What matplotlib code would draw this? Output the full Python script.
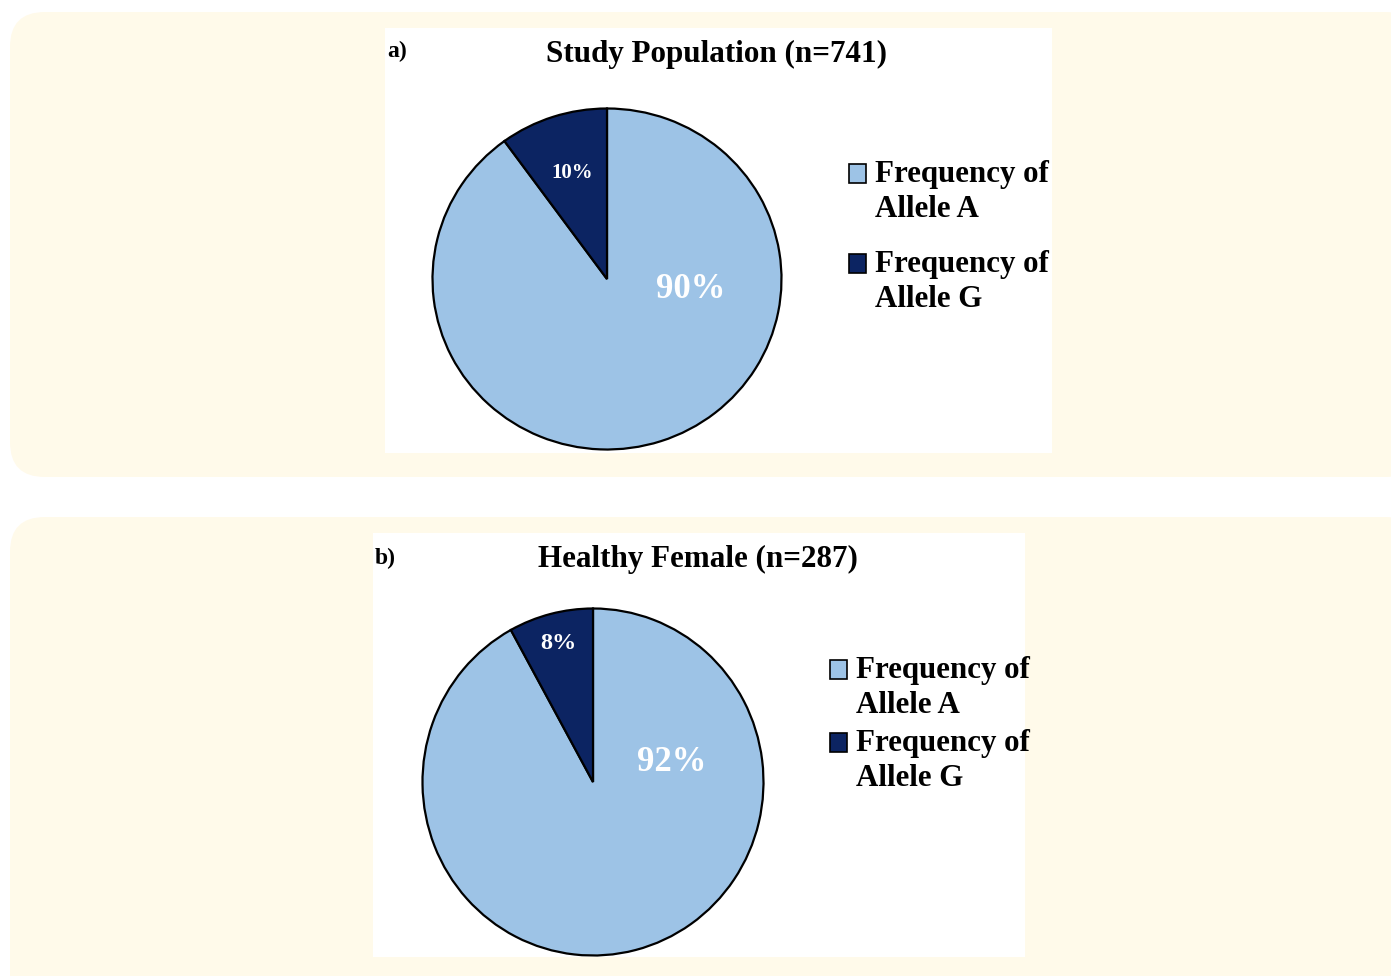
import matplotlib.pyplot as plt
from matplotlib.patches import FancyBboxPatch, Rectangle
from matplotlib.legend_handler import HandlerPatch

plt.rcParams['font.family'] = ['Liberation Serif', 'DejaVu Serif']
plt.rcParams['font.weight'] = 'bold'

labels = ['Frequency of\nAllele A', 'Frequency of\nAllele G']
colors = ['#9dc3e6', '#0c2462']

study_title = 'Study Population (n=741)'
study_values = [90, 10]

female_title = 'Healthy Female (n=287)'
female_values = [92, 8]

W, H = 1391, 976
fig = plt.figure(figsize=(W / 100, H / 100), dpi=100)
fig.patch.set_facecolor('white')


def px_box(x0, y0, x1, y1):
    # pixel box (top-left origin) -> figure fraction rect
    return [x0 / W, 1 - y1 / H, (x1 - x0) / W, (y1 - y0) / H]


def px(x, y):
    return x / W, 1 - y / H


def top_square(legend, orig_handle, xdescent, ydescent, width, height, fontsize):
    # legend swatch lined up with the first text line instead of the middle
    return Rectangle((-xdescent, -ydescent + 0.6 * fontsize), width, height)


# cream panels behind each chart
for top, bot in [(12, 477), (517, 1010)]:
    fig.patches.append(FancyBboxPatch(
        (10 / W, 1 - bot / H), (1420 - 10) / W, (bot - top) / H,
        boxstyle='round,pad=0,rounding_size=0.025', transform=fig.transFigure,
        facecolor='#fffaea', edgecolor='none', zorder=0, mutation_aspect=W / H))

# white chart areas
for x0, y0, x1, y1 in [(385, 28, 1052, 453), (373, 533, 1025, 957)]:
    r = px_box(x0, y0, x1, y1)
    fig.patches.append(Rectangle((r[0], r[1]), r[2], r[3], transform=fig.transFigure,
                                 facecolor='white', edgecolor='none', zorder=1))


def draw_pie(values, title, tag, cx, cy, rx, ry, title_xy, tag_xy,
             big_xy, small_xy, big_fs, small_fs, leg_xy, leg_space):
    m = 1.03
    ax = fig.add_axes(px_box(cx - rx * m, cy - ry * m, cx + rx * m, cy + ry * m))
    ax.set_zorder(2)
    wedges, _, pcts = ax.pie(values, colors=colors, startangle=90, counterclock=False,
                             autopct='%1.0f%%',
                             wedgeprops=dict(edgecolor='black', linewidth=1.6),
                             textprops=dict(color='white', fontweight='bold'))
    ax.set_aspect('auto')
    ax.set_xlim(-m, m)
    ax.set_ylim(-m, m)
    pcts[0].set_position(big_xy)
    pcts[0].set_fontsize(big_fs)
    pcts[1].set_position(small_xy)
    pcts[1].set_fontsize(small_fs)

    fig.text(*px(*title_xy), title, ha='center', va='center', fontsize=22.4,
             fontweight='bold', zorder=3)
    fig.text(*px(*tag_xy), tag, ha='left', va='center', fontsize=17,
             fontweight='bold', zorder=3)

    leg = ax.legend(wedges, labels, loc='upper left', bbox_to_anchor=px(*leg_xy),
                    bbox_transform=fig.transFigure, frameon=False, fontsize=22.3,
                    handlelength=0.55, handleheight=0.55, handletextpad=0.3,
                    labelspacing=leg_space, borderpad=0, borderaxespad=0,
                    handler_map={w: HandlerPatch(patch_func=top_square) for w in wedges})
    for t in leg.get_texts():
        t.set_linespacing(1.26)
    for h in leg.legend_handles:
        h.set_edgecolor('black')
        h.set_linewidth(1.2)


draw_pie(study_values, study_title, 'a)', 607, 279, 174.5, 170.5,
         (717, 54), (387, 51), (0.48, -0.06), (-0.20, 0.62), 25, 15,
         (849, 160), 0.85)

draw_pie(female_values, female_title, 'b)', 593, 782, 170.5, 173.5,
         (698, 559), (375, 558), (0.46, 0.11), (-0.205, 0.80), 25, 17.5,
         (830, 656), 0.30)

fig.savefig('out.png', dpi=100, facecolor=fig.get_facecolor())
